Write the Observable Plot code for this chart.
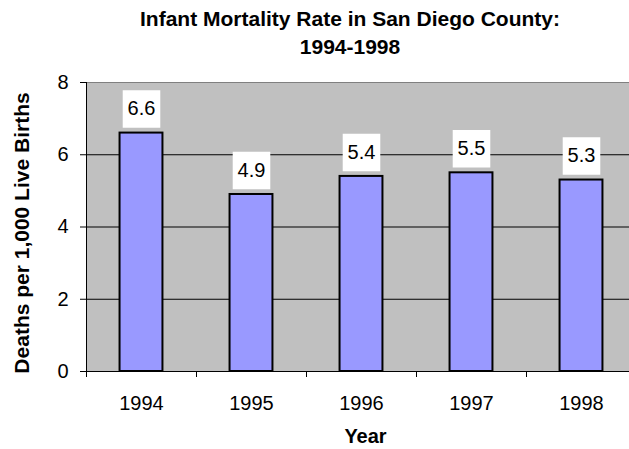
<!DOCTYPE html>
<html>
<head>
<meta charset="utf-8">
<script src="https://cdn.jsdelivr.net/npm/d3@7"></script>
<script src="https://cdn.jsdelivr.net/npm/@observablehq/plot@0.6"></script>
<style>
  html, body { margin: 0; padding: 0; background: white; overflow: hidden; }
  #wrap { position: relative; width: 629px; height: 449px; font-family: "Liberation Sans", Arial, sans-serif; }
  #title { position: absolute; left: 0; top: 5px; width: 700px; text-align: center; font-weight: bold; font-size: 21px; line-height: 28px; color: black; z-index: 2; }
  #chart { position: absolute; left: 0; top: 0; }
</style>
</head>
<body>
<div id="wrap">
  <div id="title">Infant Mortality Rate in San Diego County:<br>1994-1998</div>
  <div id="chart"></div>
</div>
<script>
const years = [1994, 1995, 1996, 1997, 1998];
const rates = [6.6, 4.9, 5.4, 5.5, 5.3];
const yTicks = [0, 2, 4, 6, 8];
const yLabel = "Deaths per 1,000 Live Births";
const xLabel = "Year";

const data = years.map((y, i) => ({year: y, rate: rates[i]}));
const xDomain = [years[0] - 0.5, years[years.length - 1] + 0.5];
const boundaries = d3.range(years.length + 1).map(i => years[0] - 0.5 + i);
const font = "Liberation Sans, Arial, sans-serif";

const chart = Plot.plot({
  width: 629,
  height: 449,
  marginLeft: 86,
  marginRight: -7,
  marginTop: 82,
  marginBottom: 78,
  style: {fontFamily: font, fontSize: "20px", color: "black", background: "transparent", overflow: "visible"},
  x: {domain: xDomain, axis: null},
  y: {domain: [0, 8], axis: null},
  marks: [
    Plot.frame({fill: "#C0C0C0", stroke: "#808080"}),
    Plot.ruleY(yTicks.filter(t => t > 0 && t < 8), {stroke: "black", strokeWidth: 1}),
    Plot.rectY(data, {x1: d => d.year - 0.195, x2: d => d.year + 0.195, y1: 0, y2: "rate", fill: "#9999FF", stroke: "black", strokeWidth: 2}),
    Plot.dot(data, {x: "year", y: "rate", symbol: "square", r: 21.2, fill: "white", stroke: "none", dy: -24}),
    Plot.text(data, {x: "year", y: "rate", text: d => d.rate.toFixed(1), dy: -24, fontSize: 20, fill: "black"}),
    Plot.ruleX([xDomain[0]], {stroke: "black", strokeWidth: 1}),
    Plot.ruleY([0], {stroke: "black", strokeWidth: 1}),
    Plot.axisY(yTicks, {tickSize: 6, tickPadding: 12, fontSize: 20, label: null, tickFormat: d => String(d)}),
    Plot.axisX(boundaries, {tickSize: 6, tickFormat: () => "", label: null}),
    Plot.axisX(years, {tickSize: 0, tickPadding: 24, fontSize: 20, label: null, tickFormat: d => String(d)}),
    Plot.text([yLabel], {frameAnchor: "left", textAnchor: "middle", lineAnchor: "middle", rotate: -90, dx: -64, dy: 6, fontSize: 21, fontWeight: "bold", fill: "black"}),
    Plot.text([xLabel], {frameAnchor: "bottom", textAnchor: "middle", lineAnchor: "middle", dx: 4, dy: 65, fontSize: 20, fontWeight: "bold", fill: "black"})
  ]
});
document.getElementById("chart").appendChild(chart);
</script>
</body>
</html>
